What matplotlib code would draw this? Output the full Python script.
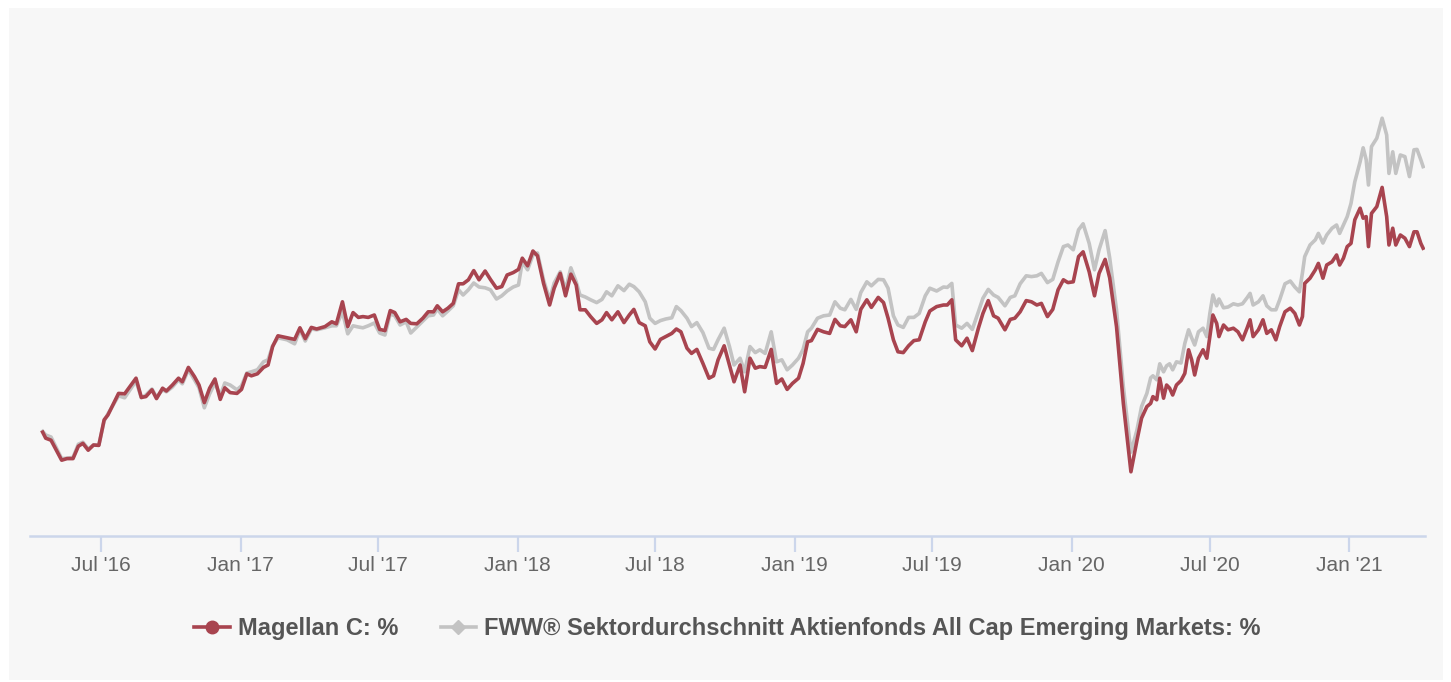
import matplotlib
matplotlib.use("Agg")
import matplotlib.pyplot as plt
import matplotlib.dates as mdates
import pandas as pd
from matplotlib.lines import Line2D
from matplotlib.patches import Rectangle

plt.rcParams["font.family"] = ["Liberation Sans", "DejaVu Sans"]

# series start date; values are cumulative performance in %
START = "2016-04-15"

days = [
    0, 4, 11, 25, 32, 40, 47, 53, 60, 67, 74, 81, 86, 100, 108, 123, 130, 136, 144, 150,
    158, 163, 171, 179, 184, 192, 200, 206, 213, 220, 227, 234, 240, 247, 256, 262, 269, 275, 283, 291,
    297, 303, 310, 322, 332, 339, 346, 354, 361, 372, 381, 387, 395, 402, 409, 416, 422, 429, 437, 444,
    451, 458, 464, 471, 479, 485, 493, 501, 508, 515, 520, 527, 534, 541, 548, 554, 561, 568, 575, 583,
    590, 598, 605, 612, 620, 627, 632, 639, 646, 652, 660, 668, 674, 682, 689, 696, 703, 708, 715, 722,
    730, 737, 743, 750, 758, 766, 773, 779, 786, 794, 800, 807, 814, 821, 829, 835, 841, 849, 855, 862,
    870, 878, 884, 890, 898, 905, 911, 919, 925, 932, 939, 945, 952, 960, 967, 974, 981, 988, 996, 1002,
    1008, 1013, 1021, 1029, 1037, 1044, 1051, 1057, 1065, 1072, 1078, 1086, 1092, 1101, 1108, 1114, 1121, 1127, 1134, 1141,
    1148, 1155, 1163, 1169, 1178, 1187, 1192, 1198, 1203, 1211, 1218, 1225, 1233, 1239, 1246, 1253, 1259, 1268, 1275, 1281,
    1288, 1296, 1303, 1310, 1316, 1324, 1331, 1338, 1345, 1351, 1358, 1365, 1371, 1379, 1386, 1392, 1400, 1406, 1415, 1424,
    1434, 1442, 1448, 1455, 1460, 1463, 1468, 1472, 1477, 1481, 1485, 1489, 1494, 1500, 1505, 1510, 1514, 1518, 1523, 1529,
    1534, 1538, 1542, 1547, 1550, 1556, 1562, 1569, 1575, 1581, 1587, 1591, 1595, 1602, 1608, 1613, 1619, 1625, 1630, 1637,
    1644, 1650, 1656, 1660, 1663, 1670, 1677, 1681, 1687, 1692, 1699, 1705, 1709, 1714, 1719, 1724, 1729, 1736, 1740, 1744,
    1747, 1751, 1758, 1765, 1771, 1774, 1779, 1783, 1789, 1795, 1801, 1807, 1811, 1816, 1819,
]

magellan = [
    0.2, -1.3, -1.8, -6.8, -6.4, -6.4, -3.3, -2.6, -4.3, -3.0, -3.1, 3.3, 4.5, 9.9, 9.8, 13.7, 8.9, 9.1, 10.8, 8.6,
    11.2, 10.5, 12.0, 13.7, 12.8, 16.4, 14.1, 12.0, 7.6, 11.2, 13.5, 8.4, 11.3, 10.1, 9.9, 10.9, 14.8, 14.3, 14.8, 16.4,
    17.0, 21.6, 24.3, 23.8, 23.4, 26.3, 23.6, 26.4, 26.0, 26.6, 27.8, 27.3, 32.8, 26.6, 30.1, 28.9, 29.1, 28.9, 29.5, 25.9,
    25.6, 30.6, 30.1, 27.8, 28.4, 27.4, 27.3, 28.7, 30.3, 30.3, 31.8, 30.3, 31.2, 32.4, 37.3, 37.3, 38.3, 40.6, 38.3, 40.5,
    38.4, 36.2, 36.6, 39.5, 40.1, 40.9, 43.7, 41.8, 45.5, 44.3, 37.4, 32.0, 36.2, 39.9, 34.3, 39.7, 37.0, 30.8, 30.8, 29.1,
    27.4, 28.3, 30.1, 28.3, 30.3, 27.6, 29.5, 30.9, 27.6, 26.8, 22.8, 21.0, 23.4, 24.1, 24.9, 26.0, 25.3, 21.2, 19.9, 20.9,
    17.4, 13.7, 14.3, 18.3, 21.8, 17.0, 12.8, 17.0, 10.3, 18.7, 16.2, 16.6, 16.4, 20.9, 12.4, 13.5, 10.9, 12.4, 13.7, 17.4,
    22.8, 23.1, 25.9, 25.3, 24.9, 28.4, 26.8, 26.6, 28.3, 25.3, 30.9, 33.3, 31.4, 33.9, 32.6, 28.7, 23.3, 20.3, 20.1, 21.8,
    23.1, 23.3, 27.8, 30.5, 31.6, 32.0, 32.0, 33.3, 23.3, 21.8, 23.7, 20.6, 26.2, 29.9, 33.1, 29.3, 28.7, 25.8, 28.4, 28.7,
    30.3, 33.1, 32.8, 32.0, 32.4, 29.1, 30.9, 35.8, 38.3, 37.6, 37.8, 44.1, 45.3, 40.3, 34.3, 39.9, 43.4, 38.8, 26.6, 7.4,
    -9.7, -1.8, 3.7, 6.6, 7.4, 9.1, 8.3, 13.7, 8.7, 12.0, 11.2, 9.5, 12.0, 13.1, 14.9, 20.8, 18.3, 14.5, 18.7, 20.8,
    18.7, 24.1, 29.5, 27.4, 24.1, 27.0, 25.8, 26.2, 25.3, 23.3, 26.2, 28.3, 24.1, 25.8, 28.3, 24.9, 25.8, 23.3, 26.6, 30.3,
    31.2, 29.9, 27.0, 29.1, 37.4, 38.7, 40.8, 42.4, 38.7, 42.0, 42.8, 44.5, 42.0, 43.7, 46.6, 47.4, 53.3, 56.2, 53.7, 54.1,
    46.6, 54.9, 56.6, 61.4, 54.1, 47.0, 51.2, 47.0, 49.5, 48.7, 46.6, 50.3, 50.3, 47.4, 46.2,
]

sector = [
    0.4, -0.5, -1.0, -6.4, -6.3, -6.1, -2.8, -2.3, -4.0, -3.0, -3.0, 3.0, 4.8, 9.3, 8.8, 13.0, 8.8, 9.5, 11.0, 9.0,
    10.8, 10.3, 11.5, 13.3, 12.3, 15.8, 13.3, 11.3, 6.3, 9.8, 12.5, 9.3, 12.5, 12.0, 10.8, 11.8, 15.0, 15.3, 15.8, 17.8,
    18.3, 21.8, 23.8, 23.3, 22.3, 25.8, 23.0, 26.0, 25.8, 26.3, 26.8, 26.8, 30.3, 24.8, 26.8, 26.5, 26.3, 26.8, 27.5, 25.0,
    24.5, 29.8, 29.3, 27.0, 27.8, 25.0, 26.5, 28.0, 29.3, 29.5, 31.0, 29.3, 30.5, 31.8, 35.8, 34.5, 35.8, 37.5, 36.5, 36.3,
    35.8, 33.5, 34.3, 35.5, 36.5, 37.0, 42.8, 40.8, 44.5, 45.0, 38.3, 33.3, 37.5, 40.3, 35.8, 41.3, 37.8, 34.5, 34.0, 33.3,
    32.6, 33.4, 35.3, 34.3, 36.8, 35.6, 37.2, 36.6, 35.3, 32.8, 28.7, 27.4, 28.1, 28.5, 28.8, 31.6, 30.6, 28.7, 26.6, 27.6,
    25.1, 21.2, 20.9, 23.3, 26.2, 21.6, 17.0, 18.7, 15.3, 21.6, 20.1, 20.8, 19.9, 25.3, 17.8, 18.3, 15.8, 17.0, 18.7, 20.9,
    25.3, 26.2, 28.7, 29.3, 29.5, 32.8, 31.2, 30.8, 33.4, 30.9, 35.1, 37.8, 36.8, 38.4, 38.3, 36.2, 29.3, 27.0, 26.4, 28.9,
    28.9, 29.9, 34.3, 36.2, 35.5, 36.5, 36.4, 37.4, 27.0, 26.2, 27.4, 25.9, 30.3, 33.7, 35.9, 34.5, 33.9, 31.8, 33.9, 34.3,
    37.3, 39.3, 39.1, 39.3, 39.9, 37.6, 38.4, 42.8, 46.6, 47.0, 45.8, 50.8, 52.3, 47.4, 40.8, 45.8, 50.6, 43.8, 30.8, 11.6,
    -4.8, 0.8, 6.6, 9.9, 13.8, 14.3, 13.3, 17.3, 15.3, 16.8, 17.3, 15.8, 17.8, 17.5, 22.4, 25.8, 23.8, 22.0, 25.3, 26.2,
    24.1, 29.9, 34.5, 31.8, 33.5, 31.3, 31.5, 32.3, 32.0, 32.3, 33.8, 34.9, 32.0, 32.8, 34.3, 31.8, 30.8, 30.8, 33.3, 37.3,
    38.0, 36.5, 35.3, 40.0, 44.1, 47.0, 48.3, 49.9, 47.5, 49.5, 51.2, 52.0, 49.9, 52.0, 54.1, 57.4, 62.8, 67.8, 71.3, 68.3,
    62.0, 71.6, 73.7, 78.7, 74.5, 64.9, 70.3, 64.9, 69.5, 69.1, 64.1, 70.8, 70.9, 68.3, 66.6,
]

labels = ["Magellan C: %", "FWW® Sektordurchschnitt Aktienfonds All Cap Emerging Markets: %"]
colors = ["#a8444f", "#c3c3c3"]

W, H = 1451, 682
start = pd.Timestamp(START)
dates = start + pd.to_timedelta(days, unit="D")

fig = plt.figure(figsize=(W / 100, H / 100), dpi=100)
fig.patch.set_facecolor("white")
# light panel behind the chart
fig.add_artist(Rectangle((9 / W, 2 / H), (1443 - 9) / W, (680 - 8) / H,
                         transform=fig.transFigure, facecolor="#f7f7f7",
                         edgecolor="none", zorder=0))

ax = fig.add_axes([30 / W, 1 - 536 / H, (1425 - 30) / W, (536 - 100) / H])
ax.set_facecolor("none")

ax.plot(dates, sector, color=colors[1], lw=2.6, solid_joinstyle="round", zorder=2)
ax.plot(dates, magellan, color=colors[0], lw=2.6, solid_joinstyle="round", zorder=3)

ax.set_ylim(-25.75, 83.25)
ax.set_xlim(start - pd.Timedelta(days=16.7), start + pd.Timedelta(days=1821.5))
ax.set_yticks([])

ax.xaxis.set_major_locator(mdates.MonthLocator(bymonth=[1, 7]))
ax.xaxis.set_major_formatter(mdates.DateFormatter("%b '%y"))
ax.tick_params(axis="x", length=11.5, width=1.6, color="#ccd6eb",
               labelsize=15, labelcolor="#666666", pad=3)

for side in ("top", "left", "right"):
    ax.spines[side].set_visible(False)
ax.spines["bottom"].set_color("#ccd6eb")
ax.spines["bottom"].set_linewidth(1.8)

handles = [
    Line2D([], [], color=colors[0], lw=2.6, marker="o", markersize=9),
    Line2D([], [], color=colors[1], lw=2.6, marker="D", markersize=7),
]
fig.legend(handles, labels, loc="center", bbox_to_anchor=(0.5014, 1 - 629 / H),
           ncol=2, frameon=False, handlelength=1.5, handletextpad=0.34,
           columnspacing=1.8, labelcolor="#555555",
           prop={"family": "Liberation Sans", "weight": "bold", "size": 17})

fig.savefig("out.png", dpi=100, facecolor=fig.get_facecolor())
